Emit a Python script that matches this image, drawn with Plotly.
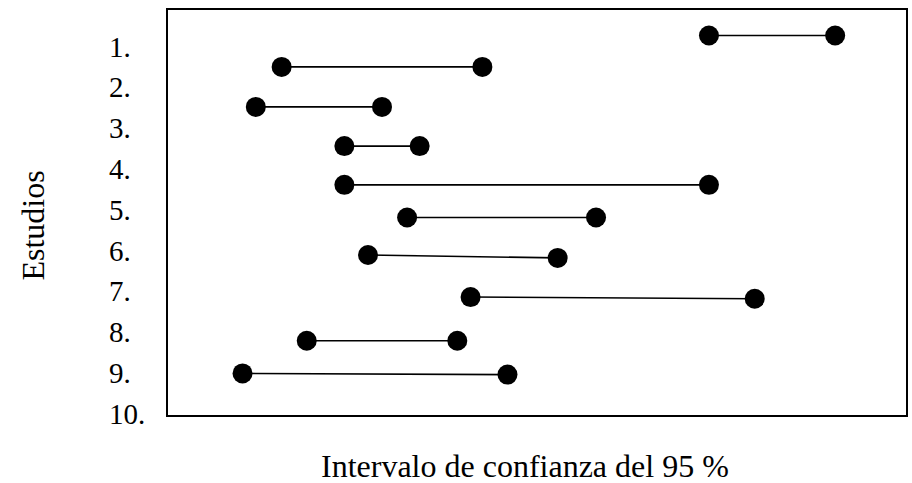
import plotly.graph_objects as go

# Studies (row labels) and their 95 % confidence intervals
estudios = ["1.", "2.", "3.", "4.", "5.", "6.", "7.", "8.", "9.", "10."]
pos_etiqueta = [1, 2, 3, 4, 5, 6, 7, 8, 9, 10]

limite_inf = [7.33, 1.54, 1.19, 2.39, 2.39, 3.24, 2.71, 4.10, 1.88, 1.01]
limite_sup = [9.04, 4.26, 2.90, 3.41, 7.33, 5.80, 5.28, 7.95, 3.92, 4.60]

# Vertical placement of each interval (row units)
fila_inf = [0.73, 1.50, 2.48, 3.44, 4.39, 5.19, 6.11, 7.14, 8.21, 9.01]
fila_sup = [0.73, 1.50, 2.48, 3.44, 4.39, 5.19, 6.18, 7.18, 8.21, 9.04]

FONT = "Times New Roman, Liberation Serif, serif"
SIZE_LABEL = 29
SIZE_TITLE = 32

fig = go.Figure()
for lo, hi, ya, yb in zip(limite_inf, limite_sup, fila_inf, fila_sup):
    fig.add_trace(go.Scatter(
        x=[lo, hi], y=[ya, yb], mode="lines+markers",
        line=dict(color="black", width=1.6),
        marker=dict(color="black", size=20),
        showlegend=False, hoverinfo="skip",
    ))

x0, x1 = 0, 10
for txt, yv in zip(estudios, pos_etiqueta):
    fig.add_annotation(
        x=-61 / 741, xref="paper", y=yv, yref="y",
        text=txt, showarrow=False, xanchor="left", yanchor="middle",
        font=dict(family=FONT, size=SIZE_LABEL, color="black"),
    )

fig.add_annotation(
    x=(525 - 167) / 741, xref="paper", y=-51 / 405, yref="paper",
    text="Intervalo de confianza del 95 %", showarrow=False,
    xanchor="center", yanchor="middle",
    font=dict(family=FONT, size=SIZE_TITLE, color="black"),
)
fig.add_annotation(
    x=(31 - 167) / 741, xref="paper", y=(415 - 226) / 405, yref="paper",
    text="Estudios", showarrow=False, textangle=-90,
    xanchor="center", yanchor="middle",
    font=dict(family=FONT, size=SIZE_TITLE, color="black"),
)

fig.update_xaxes(range=[x0, x1], showgrid=False, zeroline=False,
                 showticklabels=False, ticks="",
                 showline=True, linecolor="black", linewidth=1.5, mirror=True)
fig.update_yaxes(range=[10.03, 0.105], showgrid=False, zeroline=False,
                 showticklabels=False, ticks="",
                 showline=True, linecolor="black", linewidth=1.5, mirror=True)

fig.update_layout(
    width=912, height=483,
    margin=dict(l=168, r=4, t=10, b=68),
    paper_bgcolor="white", plot_bgcolor="white",
)

fig.write_html("out.html")
